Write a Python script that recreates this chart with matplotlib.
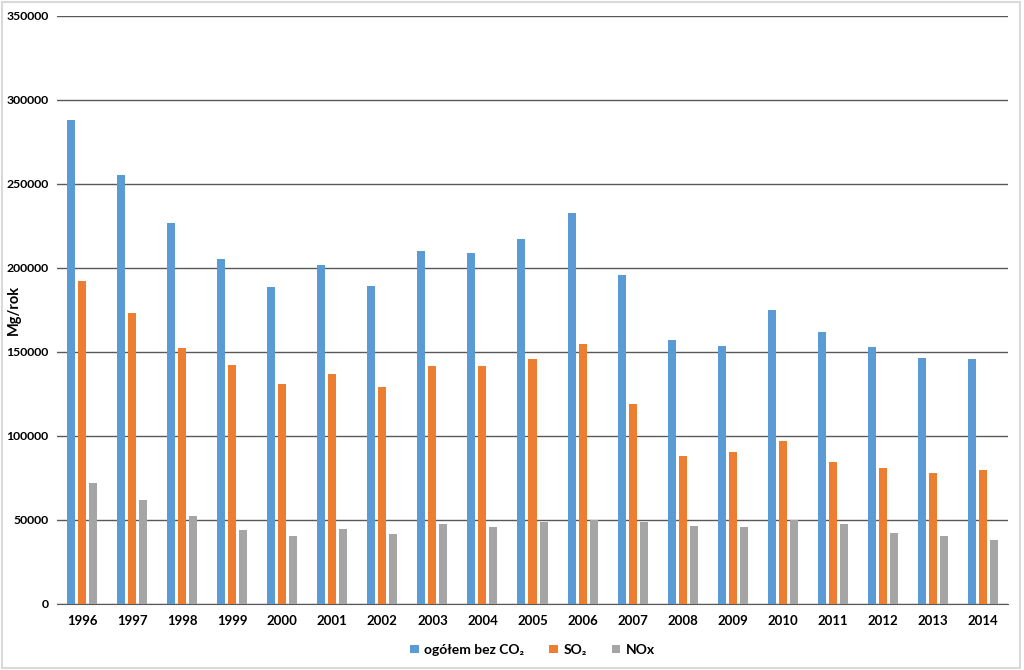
import numpy as np
import matplotlib
matplotlib.use('Agg')
import matplotlib.pyplot as plt
from matplotlib.patches import Rectangle

plt.rcParams['font.family'] = ['Lato', 'DejaVu Sans']

# Data
years = ['1996', '1997', '1998', '1999', '2000', '2001', '2002', '2003', '2004', '2005',
         '2006', '2007', '2008', '2009', '2010', '2011', '2012', '2013', '2014']
total = [288000, 255300, 226800, 205300, 188700, 201800, 189000, 210100, 208900, 217200,
         232700, 195800, 157100, 153600, 175000, 161900, 153000, 146400, 145800]
so2 = [192200, 173200, 152400, 142300, 131000, 136900, 129200, 141700, 141700, 145800,
       154800, 119000, 88100, 90500, 97000, 84500, 81000, 78000, 79800]
nox = [72000, 61900, 52400, 44000, 40500, 44600, 41700, 47600, 45800, 48800,
       50000, 48800, 46400, 45800, 50000, 47600, 42300, 40500, 38100]

labels = ['ogółem bez CO₂', 'SO₂', 'NOx']
colors = ['#5b9bd5', '#ed7d31', '#a5a5a5']

fig = plt.figure(figsize=(10.24, 6.7), dpi=100)
ax = fig.add_axes([57/1024, 1-604/670, (1008-57)/1024, (604-16)/670])

x = np.arange(len(years))
w = 0.16
step = 0.22
for i, (vals, lab, c) in enumerate(zip([total, so2, nox], labels, colors)):
    ax.bar(x + (i-1)*step, vals, width=w, color=c, label=lab, zorder=3)

ax.set_xlim(-0.5, len(years)-0.5)
ax.set_ylim(0, 350000)
ax.set_yticks(np.arange(0, 350001, 50000))
ax.set_yticklabels([str(v) for v in range(0, 350001, 50000)])
ax.set_xticks(x)
ax.set_xticklabels(years)
ax.yaxis.grid(True, color='#595959', linewidth=1.0, zorder=0)
for s in ['top', 'right', 'left']:
    ax.spines[s].set_visible(False)
ax.spines['bottom'].set_color('#595959')
ax.tick_params(axis='x', length=0, labelsize=9.5, pad=8)
ax.tick_params(axis='y', length=0, labelsize=8.8, pad=6)
for t in ax.get_xticklabels() + ax.get_yticklabels():
    t.set_fontweight('bold')
fig.text(14/1024, 1-310/670, 'Mg/rok', rotation=90, ha='center', va='center',
         fontsize=10.5, fontweight='bold')

leg = ax.legend(loc='center', bbox_to_anchor=(0.5, -0.078), ncol=3, frameon=False,
                handlelength=0.6, handleheight=0.6, handletextpad=0.4, columnspacing=1.8,
                prop={'weight': 'bold', 'size': 10})

fig.patches.append(Rectangle((0.002, 0.003), 1018/1024, 0.994, transform=fig.transFigure,
                             fill=False, edgecolor='#d9d9d9', linewidth=1.5))

fig.savefig('out.png', dpi=100)
